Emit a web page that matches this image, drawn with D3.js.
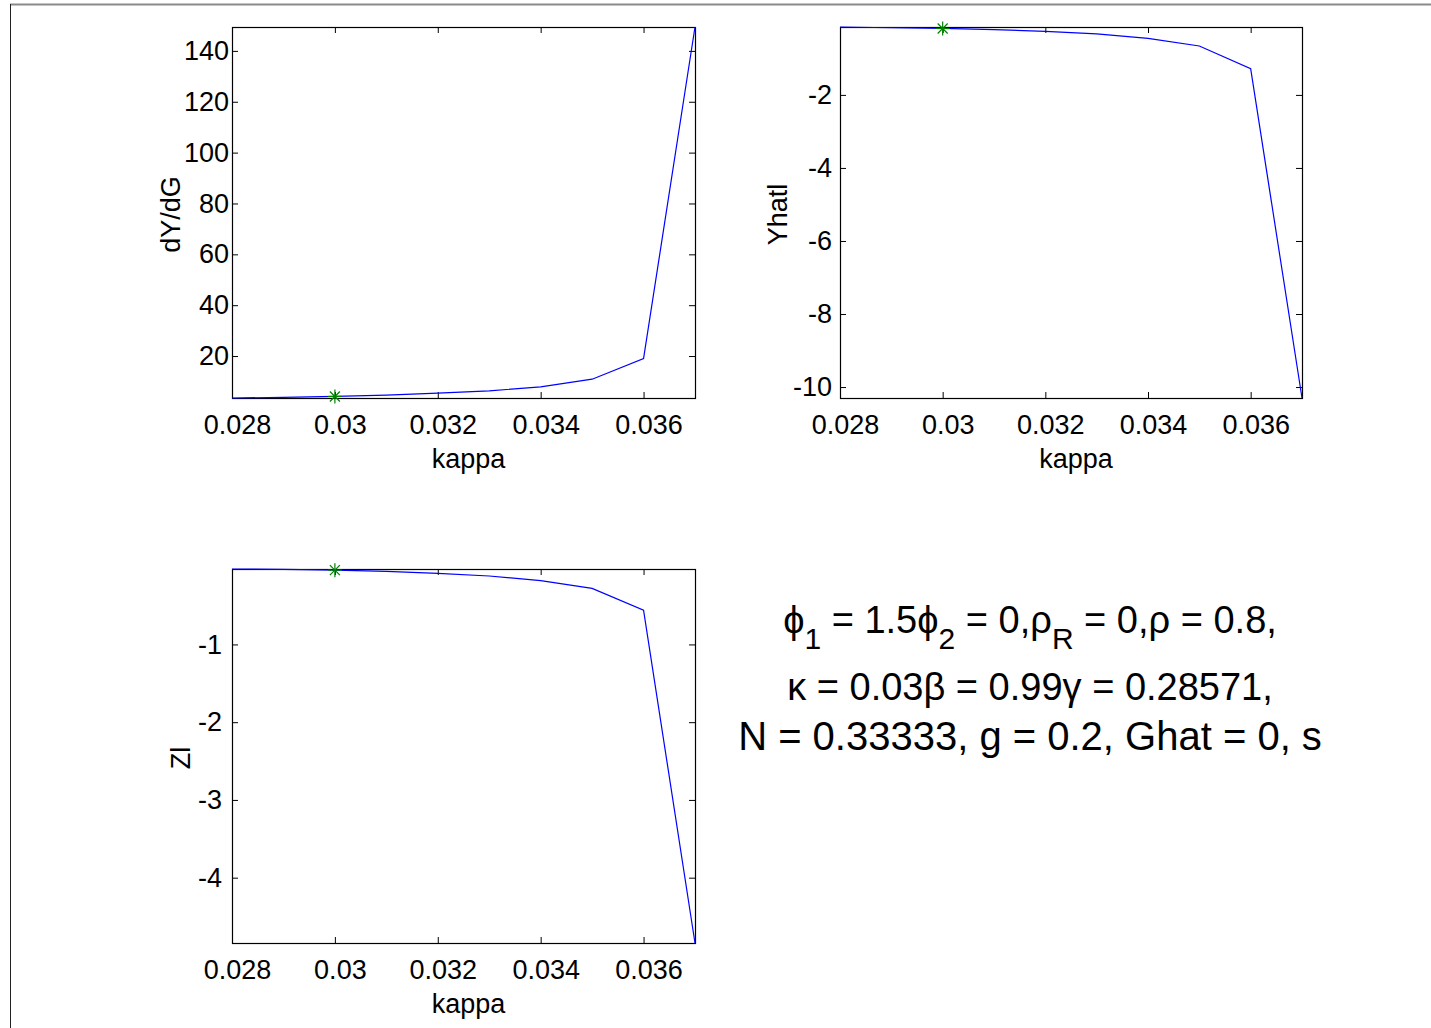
<!DOCTYPE html>
<html>
<head>
<meta charset="utf-8">
<script src="https://cdn.jsdelivr.net/npm/d3@7/dist/d3.min.js"></script>
<style>
  html, body { margin: 0; padding: 0; background: #fff; }
  svg { display: block; }
  text { font-family: "Liberation Sans", Arial, sans-serif; fill: #000; }
</style>
</head>
<body>
<script>
// ---- data ----
const kappa = [0.028, 0.029, 0.030, 0.031, 0.032, 0.033, 0.034, 0.035, 0.036, 0.037];
const dYdG  = [3.5, 3.75, 4.1, 4.6, 5.4, 6.3, 7.9, 10.9, 19.0, 149.4];
const Yhatl = [-0.14, -0.16, -0.18, -0.21, -0.26, -0.33, -0.45, -0.66, -1.28, -10.3];
const Zl    = [-0.03, -0.035, -0.045, -0.06, -0.085, -0.12, -0.18, -0.28, -0.56, -4.84];
const markerKappa = 0.03;
const xTicks = [0.028, 0.030, 0.032, 0.034, 0.036];
const xTickLabels = ["0.028", "0.03", "0.032", "0.034", "0.036"];
const yTicks1 = [20, 40, 60, 80, 100, 120, 140];
const yTicks2 = [-10, -8, -6, -4, -2];
const yTicks3 = [-4, -3, -2, -1];
const xLabel = "kappa";
const yLabels = ["dY/dG", "Yhatl", "Zl"];

const W = 1431, H = 1028;
const svg = d3.select("body").append("svg").attr("width", W).attr("height", H);

// figure frame lines
svg.append("line").attr("x1", 10).attr("x2", W).attr("y1", 4.5).attr("y2", 4.5)
  .attr("stroke", "#8a8a8a").attr("stroke-width", 2);
svg.append("line").attr("x1", 10.5).attr("x2", 10.5).attr("y1", 4).attr("y2", H)
  .attr("stroke", "#222").attr("stroke-width", 1);

const panels = [
  {left: 232, right: 695, top: 27, bottom: 398, values: dYdG, yTicks: yTicks1, ylab: yLabels[0], lpad: 3, ylabX: 180},
  {left: 840, right: 1302, top: 27, bottom: 398, values: Yhatl, yTicks: yTicks2, ylab: yLabels[1], lpad: 8, ylabX: 787},
  {left: 232, right: 695, top: 569, bottom: 943, values: Zl, yTicks: yTicks3, ylab: yLabels[2], lpad: 10, ylabX: 190}
];

panels.forEach(p => {
  const w = p.right - p.left, h = p.bottom - p.top;
  const x = d3.scaleLinear().domain(d3.extent(kappa)).range([0, w]);
  const y = d3.scaleLinear().domain(d3.extent(p.values)).range([h, 0]);
  const g = svg.append("g").attr("transform", `translate(${p.left},${p.top})`);

  const fmt = d => xTickLabels[xTicks.indexOf(d)];
  const axB = g.append("g").attr("transform", `translate(0,${h})`)
    .call(d3.axisBottom(x).tickValues(xTicks).tickFormat(fmt).tickSizeInner(-6).tickSizeOuter(0).tickPadding(17));
  const axT = g.append("g")
    .call(d3.axisTop(x).tickValues(xTicks).tickFormat("").tickSizeInner(-6).tickSizeOuter(0));
  const axL = g.append("g")
    .call(d3.axisLeft(y).tickValues(p.yTicks).tickFormat(d => String(d)).tickSizeInner(-6).tickSizeOuter(0).tickPadding(p.lpad));
  const axR = g.append("g").attr("transform", `translate(${w},0)`)
    .call(d3.axisRight(y).tickValues(p.yTicks).tickFormat("").tickSizeInner(-6).tickSizeOuter(0));
  [axB, axT, axL, axR].forEach(a => {
    a.select(".domain").remove();
    a.selectAll(".tick line").attr("stroke", "#000").attr("stroke-width", 1);
    a.selectAll("text").attr("font-size", 27).attr("font-family", '"Liberation Sans", Arial, sans-serif').attr("fill", "#000");
  });
  axB.selectAll("text").attr("dx", 5);

  // box
  g.append("rect").attr("x", 0.5).attr("y", 0.5).attr("width", w).attr("height", h)
    .attr("fill", "none").attr("stroke", "#000").attr("stroke-width", 1.2);

  // line
  const line = d3.line().x((d, i) => x(kappa[i])).y(d => y(d));
  g.append("path").datum(p.values).attr("d", line)
    .attr("fill", "none").attr("stroke", "#0000ff").attr("stroke-width", 1.2);

  // marker (asterisk)
  const mi = kappa.indexOf(markerKappa);
  const mx = x(kappa[mi]), my = y(p.values[mi]);
  const r = 7, rd = 5;
  const star = g.append("g").attr("stroke", "#008000").attr("stroke-width", 1.2);
  star.append("line").attr("x1", mx - r).attr("x2", mx + r).attr("y1", my).attr("y2", my);
  star.append("line").attr("x1", mx).attr("x2", mx).attr("y1", my - r).attr("y2", my + r);
  star.append("line").attr("x1", mx - rd).attr("x2", mx + rd).attr("y1", my - rd).attr("y2", my + rd);
  star.append("line").attr("x1", mx - rd).attr("x2", mx + rd).attr("y1", my + rd).attr("y2", my - rd);

  // x label
  svg.append("text").attr("x", (p.left + p.right) / 2 + 5).attr("y", p.bottom + 70)
    .attr("text-anchor", "middle").attr("font-size", 27).text(xLabel);
  // y label
  svg.append("text").attr("transform", `translate(${p.ylabX},${(p.top + p.bottom) / 2 + 2}) rotate(-90)`)
    .attr("text-anchor", "middle").attr("font-size", 27).text(p.ylab);
});

// parameter annotation text
const cx = 1030;
const fs = 38, sfs = 30;
function seg(t, s, opts) {
  const ts = t.append("tspan").text(s);
  if (opts) Object.entries(opts).forEach(([k, v]) => ts.attr(k, v));
  return ts;
}
const t1 = svg.append("text").attr("x", cx).attr("y", 633).attr("text-anchor", "middle").attr("font-size", fs);
seg(t1, "\u03D5");
seg(t1, "1", {"font-size": sfs, dy: 16});
seg(t1, " = 1.5", {dy: -16});
seg(t1, "\u03D5");
seg(t1, "2", {"font-size": sfs, dy: 16});
seg(t1, " = 0,", {dy: -16});
seg(t1, "\u03C1");
seg(t1, "R", {"font-size": sfs, dy: 16});
seg(t1, " = 0,", {dy: -16});
seg(t1, "\u03C1 = 0.8,");

const t2 = svg.append("text").attr("x", cx).attr("y", 700).attr("text-anchor", "middle").attr("font-size", fs);
seg(t2, "\u03BA = 0.03");
seg(t2, "\u03B2");
seg(t2, " = 0.99");
seg(t2, "\u03B3");
seg(t2, " = 0.28571,");

svg.append("text").attr("x", cx).attr("y", 750).attr("text-anchor", "middle").attr("font-size", 40)
  .text("N = 0.33333, g = 0.2, Ghat = 0, s");
</script>
</body>
</html>
